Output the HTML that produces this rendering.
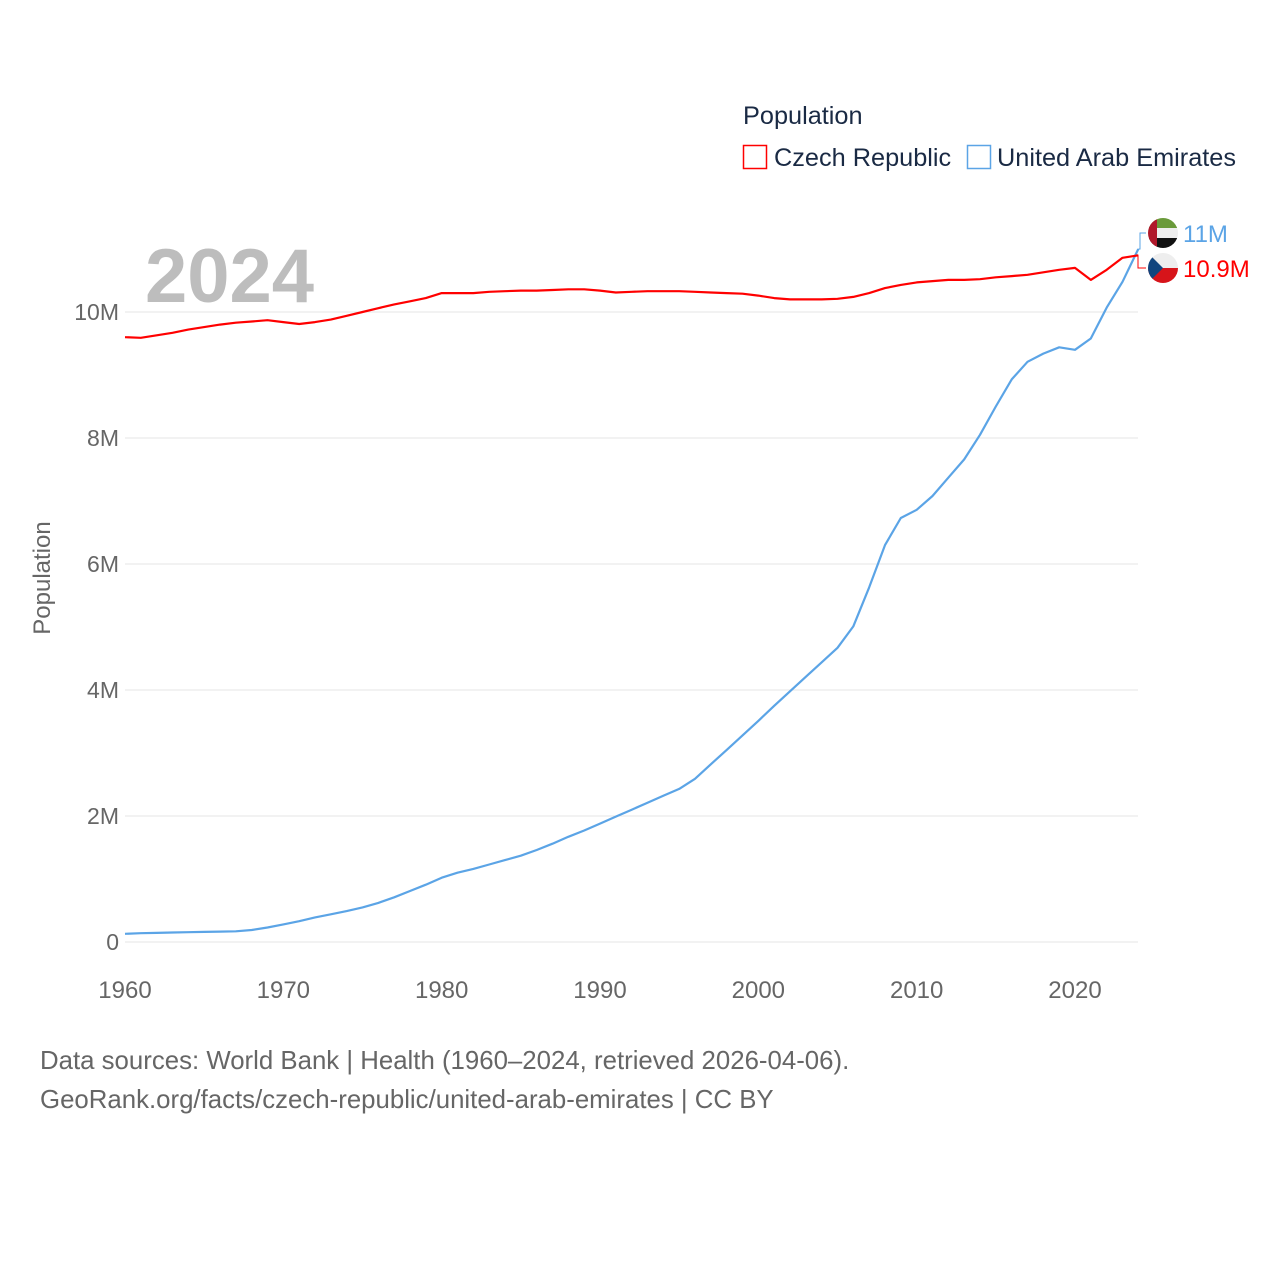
<!DOCTYPE html>
<html><head><meta charset="utf-8">
<style>
html,body{margin:0;padding:0;background:#fff;}
svg{display:block;font-family:"Liberation Sans",sans-serif;}
</style></head>
<body>
<svg id="chart" width="1280" height="1280" viewBox="0 0 1280 1280">
  <g id="grid"></g>
  <g id="yaxis"></g>
  <g id="xaxis"></g>
  <text x="145" y="302" font-size="76" font-weight="bold" fill="#bdbdbd">2024</text>
  <text transform="translate(50,578) rotate(-90)" text-anchor="middle" font-size="24" fill="#666">Population</text>
  <g id="series"></g>
  <g>
    <text x="743" y="124" font-size="25.3" fill="#1a2a44">Population</text>
    <g>
      <rect x="743.5" y="145.5" width="23" height="23" fill="#fff" stroke="#f00" stroke-width="1.5"/>
      <text x="774" y="166" font-size="25.3" fill="#1a2a44">Czech Republic</text>
    </g>
    <g>
      <rect x="967.5" y="145.5" width="23" height="23" fill="#fff" stroke="#5ba4e6" stroke-width="1.5"/>
      <text x="997" y="166" font-size="25.3" fill="#1a2a44">United Arab Emirates</text>
    </g>
  </g>
  <g id="endlabels"></g>
  <text x="40" y="1069" font-size="25.8" fill="#666">Data sources: World Bank | Health (1960–2024, retrieved 2026-04-06).</text>
  <text x="40" y="1108" font-size="25.8" fill="#666">GeoRank.org/facts/czech-republic/united-arab-emirates | CC BY</text>
</svg>
<script>
const years = [];
for (let y = 1960; y <= 2024; y++) years.push(y);
const czechValues = [9.60,9.59,9.63,9.67,9.72,9.76,9.80,9.83,9.85,9.87,
9.84,9.81,9.84,9.88,9.94,10.00,10.06,10.12,10.17,10.22,
10.30,10.30,10.30,10.32,10.33,10.34,10.34,10.35,10.36,10.36,
10.34,10.31,10.32,10.33,10.33,10.33,10.32,10.31,10.30,10.29,
10.26,10.22,10.20,10.20,10.20,10.21,10.24,10.30,10.38,10.43,
10.47,10.49,10.51,10.51,10.52,10.55,10.57,10.59,10.63,10.67,
10.70,10.51,10.67,10.86,10.90];
const uaeValues = [0.13,0.14,0.145,0.15,0.155,0.16,0.165,0.17,0.19,0.23,
0.28,0.33,0.39,0.44,0.49,0.55,0.62,0.71,0.81,0.91,
1.02,1.10,1.16,1.23,1.30,1.37,1.46,1.56,1.67,1.77,
1.88,1.99,2.10,2.21,2.32,2.43,2.59,2.82,3.05,3.28,
3.51,3.75,3.98,4.21,4.44,4.67,5.01,5.63,6.30,6.73,
6.86,7.08,7.37,7.66,8.05,8.50,8.93,9.21,9.34,9.44,
9.40,9.58,10.07,10.48,11.00];
const yTicks = [0,2,4,6,8,10];
const yTickLabels = ["0","2M","4M","6M","8M","10M"];
const xTicks = [1960,1970,1980,1990,2000,2010,2020];
const endLabels = ["10.9M","11M"];

const NS = "http://www.w3.org/2000/svg";
const x = yr => 125 + (yr - 1960) * (1075 - 125) / 60;
const y = v => 942 - v * 63;
function mk(tag, attrs, parent) {
  const e = document.createElementNS(NS, tag);
  for (const k in attrs) e.setAttribute(k, attrs[k]);
  parent.appendChild(e);
  return e;
}
const grid = document.getElementById('grid');
const ya = document.getElementById('yaxis');
yTicks.forEach((t, i) => {
  const l = mk('line', {x1:125, x2:1138, y1:y(t), y2:y(t), stroke:'#e6e6e6', 'stroke-width':1}, grid);
  
  
  const tx = mk('text', {x:119, y:y(t)+8, 'text-anchor':'end', 'font-size':23, fill:'#666'}, ya);
  tx.textContent = yTickLabels[i];
  
  
});
const xa = document.getElementById('xaxis');
xTicks.forEach(t => {
  const tx = mk('text', {x:x(t), y:998, 'text-anchor':'middle', 'font-size':24, fill:'#666'}, xa);
  tx.textContent = t;
  
  
});
const series = document.getElementById('series');
function line(vals, color, name) {
  const d = vals.map((v, i) => (i ? 'L' : 'M') + x(years[i]).toFixed(1) + ',' + y(v).toFixed(1)).join('');
  const p = mk('path', {d:d, fill:'none', stroke:color, 'stroke-width':2.2, 'stroke-linejoin':'round'}, series);
  
  
}
line(uaeValues, '#5ba4e6', 'line-uae');
line(czechValues, '#f00', 'line-czech');

const el = document.getElementById('endlabels');
const lastX = x(years[years.length-1]);
const cz = czechValues[czechValues.length-1], ua = uaeValues[uaeValues.length-1];
const uaY = Math.min(y(ua), y(cz)) - 17 < 233 ? 233 : y(ua) - 10;
const czY = uaY + 35;
const c1 = mk('path', {d:`M${lastX},${y(ua)} L1140,${y(ua)} L1140,${uaY} L1146,${uaY}`, fill:'none', stroke:'#5ba4e6', 'stroke-width':1}, el);


const c2 = mk('path', {d:`M${lastX},${y(cz)} L1138,${y(cz)} L1138,${czY} L1146,${czY}`, fill:'none', stroke:'#f00', 'stroke-width':1}, el);


const fu = mk('g', {}, el);


const cu = mk('clipPath', {id:'cu'}, fu); mk('circle', {cx:1163, cy:uaY, r:15}, cu);
const gu = mk('g', {'clip-path':'url(#cu)'}, fu);
mk('rect', {x:1148, y:uaY-15, width:30, height:10, fill:'#6a9a3a'}, gu);
mk('rect', {x:1148, y:uaY-5, width:30, height:10, fill:'#eee'}, gu);
mk('rect', {x:1148, y:uaY+5, width:30, height:10, fill:'#111'}, gu);
mk('rect', {x:1148, y:uaY-15, width:9, height:30, fill:'#b0182a'}, gu);
const fc = mk('g', {}, el);


const cc = mk('clipPath', {id:'cc'}, fc); mk('circle', {cx:1163, cy:czY, r:15}, cc);
const gc = mk('g', {'clip-path':'url(#cc)'}, fc);
mk('rect', {x:1148, y:czY-15, width:30, height:15, fill:'#eee'}, gc);
mk('rect', {x:1148, y:czY, width:30, height:15, fill:'#d7141a'}, gc);
mk('path', {d:`M1148,${czY-15} L1163,${czY} L1148,${czY+15}Z`, fill:'#11457e'}, gc);
const t1 = mk('text', {x:1183, y:uaY+9, 'font-size':24, fill:'#5ba4e6'}, el);
t1.textContent = endLabels[1];


const t2 = mk('text', {x:1183, y:czY+9, 'font-size':24, fill:'#f00'}, el);
t2.textContent = endLabels[0];


</script>
</body></html>
